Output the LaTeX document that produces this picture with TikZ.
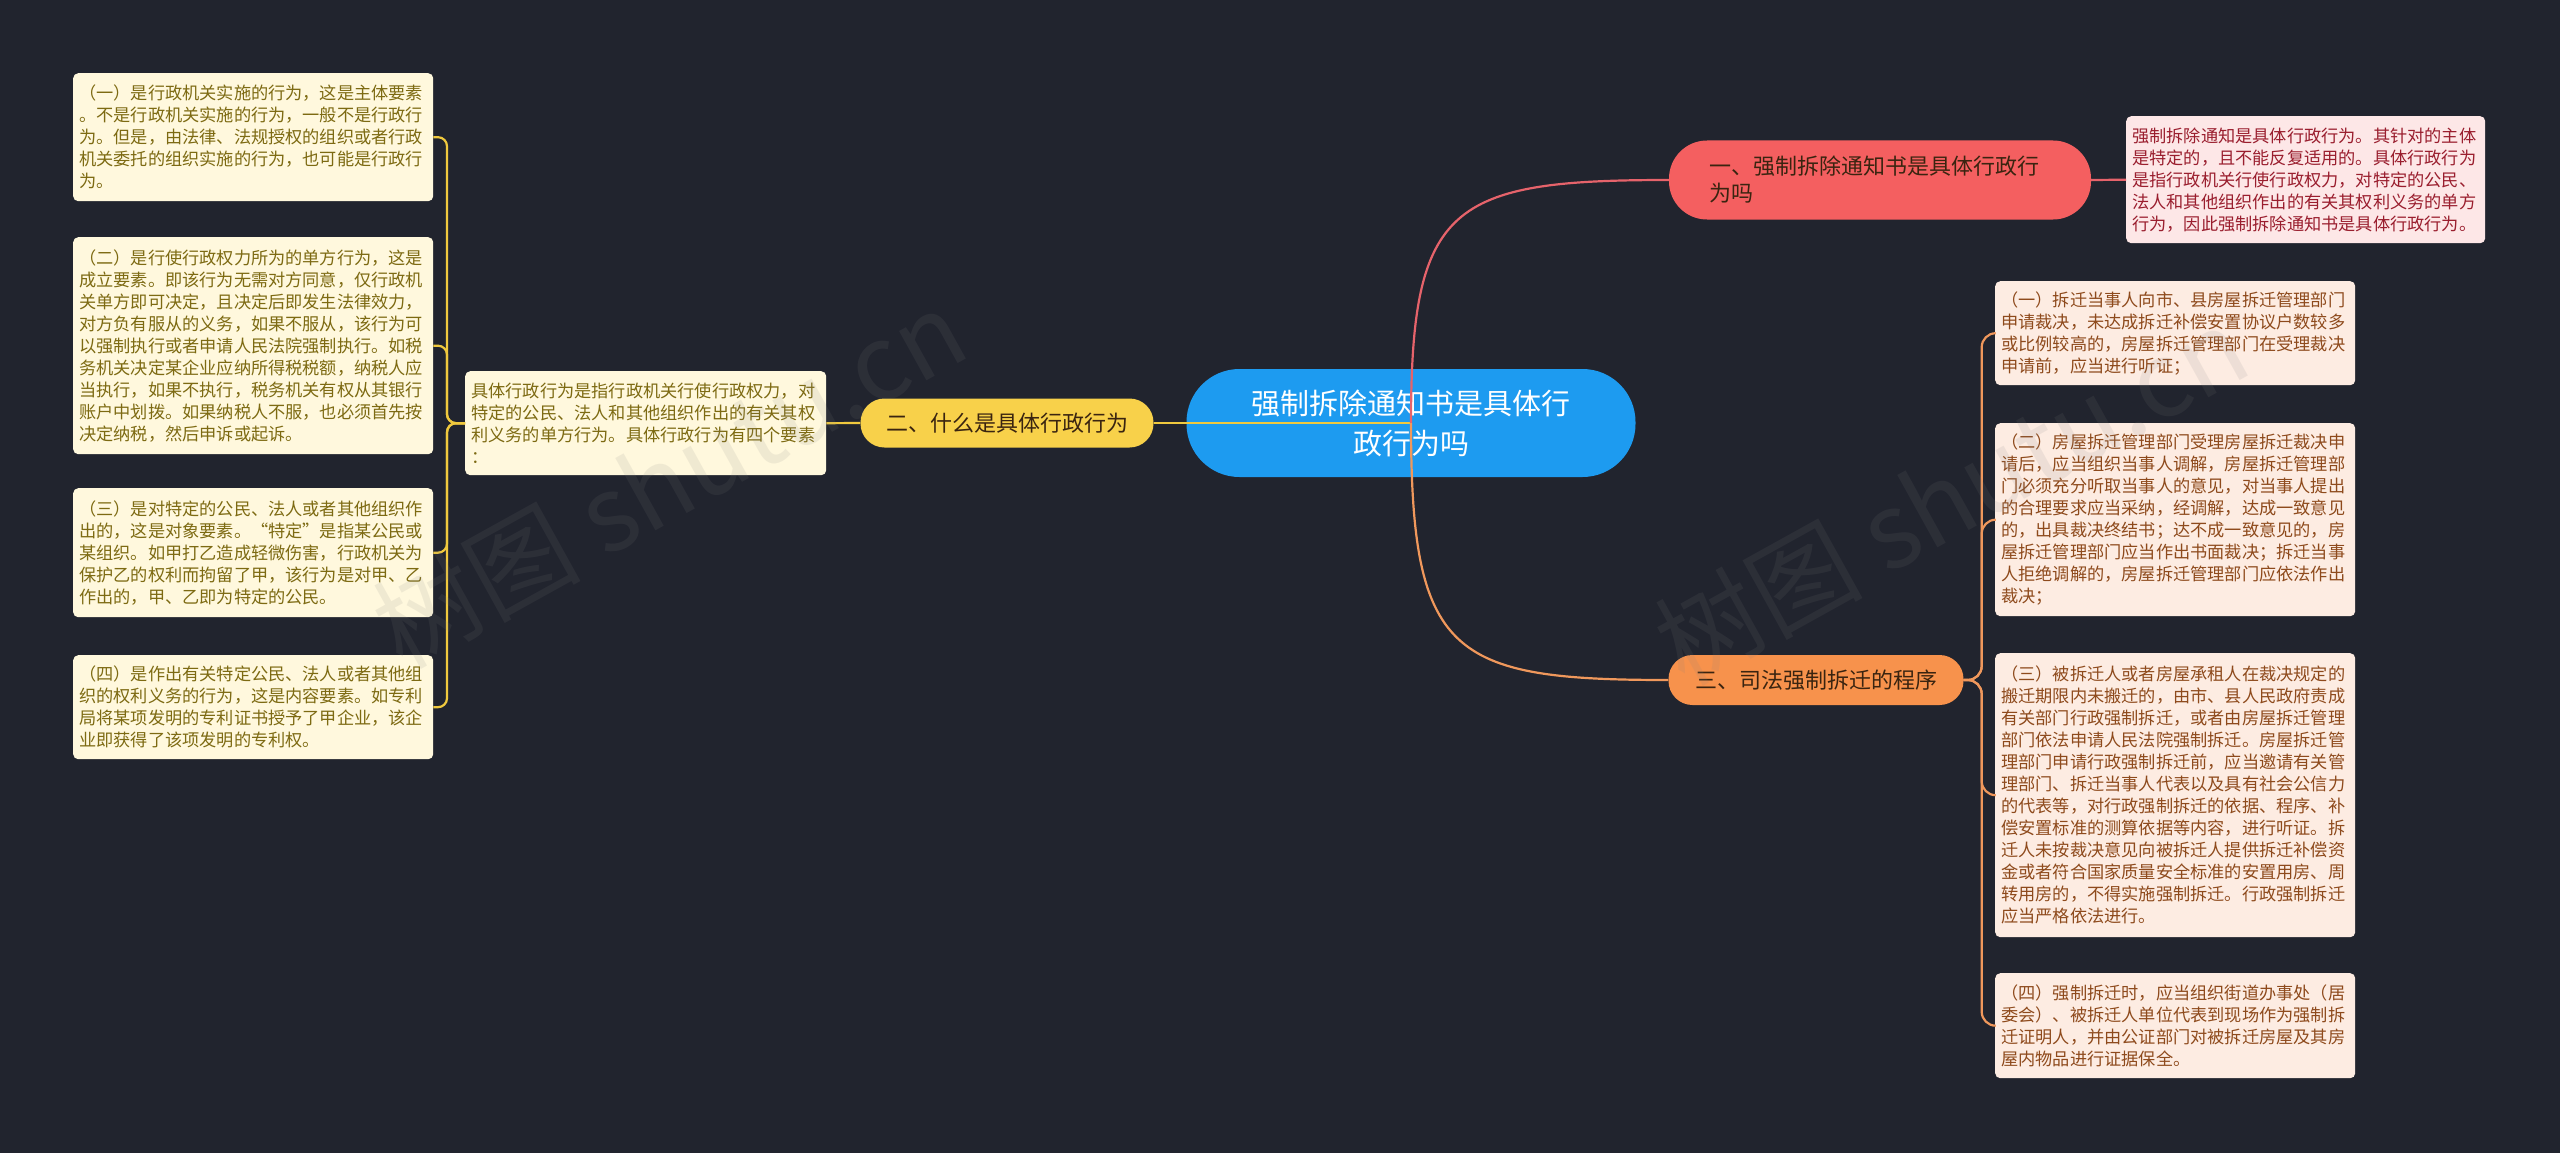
\documentclass[tikz,border=0pt]{standalone}
\usepackage{fontspec}
\newfontfamily\cjk{Noto Sans CJK SC}
\definecolor{bg}{HTML}{21242E}
\definecolor{cblue}{HTML}{1D9BF0}
\definecolor{cred}{HTML}{F45F60}
\definecolor{credline}{HTML}{E6636B}
\definecolor{credbox}{HTML}{FDE7E7}
\definecolor{credtext}{HTML}{9A1E2E}
\definecolor{cyellow}{HTML}{F8D14A}
\definecolor{cyline}{HTML}{F0C93E}
\definecolor{ccream}{HTML}{FFF8DD}
\definecolor{colive}{HTML}{7D6A12}
\definecolor{corange}{HTML}{F7924C}
\definecolor{coline}{HTML}{F0985C}
\definecolor{cpeach}{HTML}{FDECE2}
\definecolor{cbrown}{HTML}{8E4A1C}
\definecolor{darktext}{HTML}{3A2410}
\tikzset{
  detail/.style={rounded corners=5pt, anchor=north west, align=left,
    font=\cjk\fontsize{17.2}{22}\selectfont, text width=348pt, inner xsep=6pt, inner ysep=0pt},
  leftbox/.style={detail, fill=ccream, text=colive},
  rightbox/.style={detail, fill=cpeach, text=cbrown},
  redbox/.style={detail, fill=credbox, text=credtext, text width=347pt},
  pill/.style={inner sep=0pt, align=center},
  yconn/.style={draw=cyline, line width=2.2pt},
  oconn/.style={draw=coline, line width=2.2pt},
  rconn/.style={draw=credline, line width=2.2pt},
  wmark/.style={text=gray, opacity=0.12, font=\cjk\fontsize{104}{104}\selectfont, rotate=29}
}
\begin{document}
\begin{tikzpicture}[x=1pt,y=-1pt]
\fill[bg] (0,0) rectangle (2560,1153);
\useasboundingbox (0,0) rectangle (2560,1153);

% left column
\node[leftbox, minimum height=128pt] (L1) at (73,73) {（一）是行政机关实施的行为，这是主体要素\\。不是行政机关实施的行为，一般不是行政行\\为。但是，由法律、法规授权的组织或者行政\\机关委托的组织实施的行为，也可能是行政行\\为。};
\node[leftbox, minimum height=217pt] (L2) at (73,237) {（二）是行使行政权力所为的单方行为，这是\\成立要素。即该行为无需对方同意，仅行政机\\关单方即可决定，且决定后即发生法律效力，\\对方负有服从的义务，如果不服从，该行为可\\以强制执行或者申请人民法院强制执行。如税\\务机关决定某企业应纳所得税税额，纳税人应\\当执行，如果不执行，税务机关有权从其银行\\账户中划拨。如果纳税人不服，也必须首先按\\决定纳税，然后申诉或起诉。};
\node[leftbox, minimum height=129pt] (L3) at (73,488) {（三）是对特定的公民、法人或者其他组织作\\出的，这是对象要素。“特定”是指某公民或\\某组织。如甲打乙造成轻微伤害，行政机关为\\保护乙的权利而拘留了甲，该行为是对甲、乙\\作出的，甲、乙即为特定的公民。};
\node[leftbox, minimum height=104pt] (L4) at (73,655) {（四）是作出有关特定公民、法人或者其他组\\织的权利义务的行为，这是内容要素。如专利\\局将某项发明的专利证书授予了甲企业，该企\\业即获得了该项发明的专利权。};

% yellow detail
\node[leftbox, minimum height=104pt, text width=349pt] (YD) at (465,371) {具体行政行为是指行政机关行使行政权力，对\\特定的公民、法人和其他组织作出的有关其权\\利义务的单方行为。具体行政行为有四个要素\\：};

% yellow branch node
\node[pill, fill=cyellow, rounded corners=24pt, minimum width=293pt, minimum height=49pt,
  text=darktext, font=\cjk\fontsize{22}{27}\selectfont] (Y) at (1007,423) {二、什么是具体行政行为};

% central
\node[pill, fill=cblue, rounded corners=53pt, minimum width=449pt, minimum height=108pt,
  text=white, font=\cjk\fontsize{29}{40}\selectfont] (C) at (1411,423) {强制拆除通知书是具体行\\政行为吗};

% red branch
\node[fill=cred, rounded corners=38pt, minimum width=422pt, minimum height=79pt, inner ysep=0pt,
  inner xsep=40pt, text width=342pt, align=left, text=darktext,
  font=\cjk\fontsize{22}{27}\selectfont] (R) at (1880,180) {一、强制拆除通知书是具体行政行\\为吗};
\node[redbox, minimum height=127pt] (RD) at (2126,116) {强制拆除通知是具体行政行为。其针对的主体\\是特定的，且不能反复适用的。具体行政行为\\是指行政机关行使行政权力，对特定的公民、\\法人和其他组织作出的有关其权利义务的单方\\行为，因此强制拆除通知书是具体行政行为。};

% orange branch
\node[pill, fill=corange, rounded corners=24pt, minimum width=295pt, minimum height=50pt,
  text=darktext, font=\cjk\fontsize{22}{27}\selectfont] (O) at (1816,680) {三、司法强制拆迁的程序};

% right column
\node[rightbox, minimum height=104pt] (P1) at (1995,281) {（一）拆迁当事人向市、县房屋拆迁管理部门\\申请裁决，未达成拆迁补偿安置协议户数较多\\或比例较高的，房屋拆迁管理部门在受理裁决\\申请前，应当进行听证；};
\node[rightbox, minimum height=193pt] (P2) at (1995,423) {（二）房屋拆迁管理部门受理房屋拆迁裁决申\\请后，应当组织当事人调解，房屋拆迁管理部\\门必须充分听取当事人的意见，对当事人提出\\的合理要求应当采纳，经调解，达成一致意见\\的，出具裁决终结书；达不成一致意见的，房\\屋拆迁管理部门应当作出书面裁决；拆迁当事\\人拒绝调解的，房屋拆迁管理部门应依法作出\\裁决；};
\node[rightbox, minimum height=284pt] (P3) at (1995,653) {（三）被拆迁人或者房屋承租人在裁决规定的\\搬迁期限内未搬迁的，由市、县人民政府责成\\有关部门行政强制拆迁，或者由房屋拆迁管理\\部门依法申请人民法院强制拆迁。房屋拆迁管\\理部门申请行政强制拆迁前，应当邀请有关管\\理部门、拆迁当事人代表以及具有社会公信力\\的代表等，对行政强制拆迁的依据、程序、补\\偿安置标准的测算依据等内容，进行听证。拆\\迁人未按裁决意见向被拆迁人提供拆迁补偿资\\金或者符合国家质量安全标准的安置用房、周\\转用房的，不得实施强制拆迁。行政强制拆迁\\应当严格依法进行。};
\node[rightbox, minimum height=105pt] (P4) at (1995,973) {（四）强制拆迁时，应当组织街道办事处（居\\委会）、被拆迁人单位代表到现场作为强制拆\\迁证明人，并由公证部门对被拆迁房屋及其房\\屋内物品进行证据保全。};

% connectors
\draw[yconn] (C.center) -- (Y.east);
\draw[yconn] (Y.west) -- (YD.east);
\foreach \n in {L1,L2,L3,L4}
  \draw[yconn, rounded corners=9pt] (YD.west) -- ++(-18,0) |- (\n.east);
\draw[rconn] (C.center) .. controls (1411,205) and (1450,180) .. (R.west);
\draw[rconn] (R.east) -- (RD.west);
\draw[oconn] (C.center) .. controls (1411,655) and (1450,680) .. (O.west);
\foreach \n in {P1,P2,P3,P4}
  \draw[oconn, rounded corners=14pt] (O.east) -- ++(18,0) |- (\n.west);

% watermarks
\node[wmark] (W1) at (669,478) {树图 shutu.cn};
\node[wmark] (W2) at (1951,495) {树图 shutu.cn};
\end{tikzpicture}
\end{document}
